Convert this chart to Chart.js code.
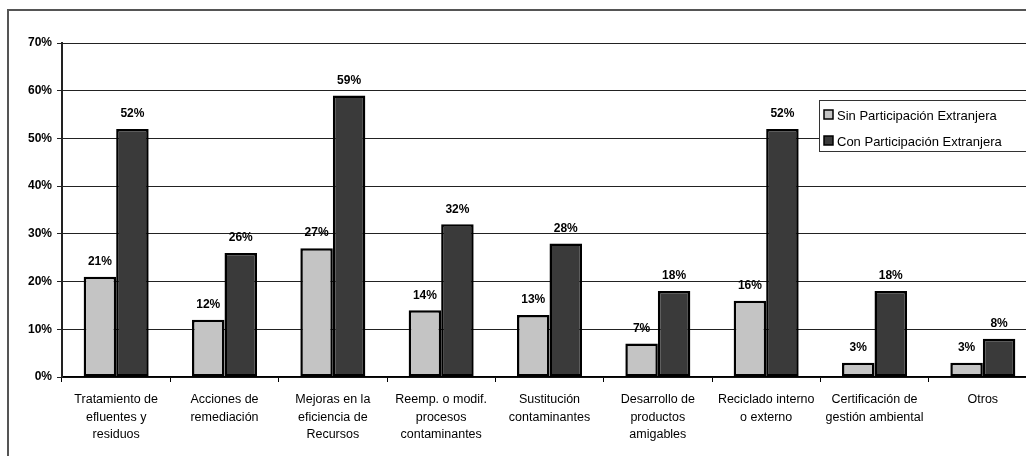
<!DOCTYPE html>
<html>
<head>
<meta charset="utf-8">
<script src="https://cdn.jsdelivr.net/npm/chart.js@4"></script>
<style>
  html, body { margin: 0; padding: 0; background: #fff; overflow: hidden; }
  #wrap { width: 1026px; height: 456px; overflow: hidden; position: relative; }
  canvas { display: block; }
</style>
</head>
<body>
<div id="wrap"><canvas id="c" width="1045" height="456"></canvas></div>
<script>
// Categorías de prácticas ambientales
const categories = [
  ['Tratamiento de', 'efluentes y', 'residuos'],
  ['Acciones de', 'remediación'],
  ['Mejoras en la', 'eficiencia de', 'Recursos'],
  ['Reemp. o modif.', 'procesos', 'contaminantes'],
  ['Sustitución', 'contaminantes'],
  ['Desarrollo de', 'productos', 'amigables'],
  ['Reciclado interno', 'o externo'],
  ['Certificación de', 'gestión ambiental'],
  ['Otros']
];
const seriesNames = ['Sin Participación Extranjera', 'Con Participación Extranjera'];
const sinParticipacion = [21, 12, 27, 14, 13, 7, 16, 3, 3];
const conParticipacion = [52, 26, 59, 32, 28, 18, 52, 18, 8];
const yTicks = [0, 10, 20, 30, 40, 50, 60, 70];

const FONT = '"Liberation Sans", Arial, sans-serif';
const LIGHT = '#c4c4c4';
const DARK = '#3a3a3a';

// Marco exterior del gráfico (bordes superior e izquierdo)
const framePlugin = {
  id: 'frame',
  beforeDraw(chart) {
    const ctx = chart.ctx;
    ctx.save();
    ctx.fillStyle = '#fff';
    ctx.fillRect(0, 0, chart.width, chart.height);
    ctx.strokeStyle = '#555';
    ctx.lineWidth = 2;
    ctx.beginPath();
    ctx.moveTo(8, 456);
    ctx.lineTo(8, 10);
    ctx.lineTo(chart.width, 10);
    ctx.stroke();
    ctx.restore();
  }
};

// Etiquetas de valor sobre cada barra
const valueLabels = {
  id: 'valueLabels',
  afterDatasetsDraw(chart) {
    const ctx = chart.ctx;
    ctx.save();
    ctx.font = 'bold 12px ' + FONT;
    ctx.fillStyle = '#000';
    ctx.textAlign = 'center';
    ctx.textBaseline = 'middle';
    chart.data.datasets.forEach((ds, i) => {
      chart.getDatasetMeta(i).data.forEach((bar, j) => {
        ctx.fillText(ds.data[j] + '%', bar.x, bar.y - 15);
      });
    });
    ctx.restore();
  }
};

// Leyenda en recuadro dentro del área de trazado
const boxLegend = {
  id: 'boxLegend',
  afterDraw(chart) {
    const ctx = chart.ctx;
    const x0 = 819, y0 = 100, w = 230, h = 51;
    ctx.save();
    ctx.fillStyle = '#fff';
    ctx.fillRect(x0, y0, w, h);
    ctx.strokeStyle = '#333';
    ctx.lineWidth = 1;
    ctx.strokeRect(x0 + 0.5, y0 + 0.5, w, h);
    ctx.font = '13px ' + FONT;
    ctx.textBaseline = 'middle';
    ctx.textAlign = 'left';
    const rows = [115, 141];
    chart.data.datasets.forEach((ds, i) => {
      const cy = rows[i];
      ctx.fillStyle = ds.backgroundColor;
      ctx.fillRect(824, cy - 5, 9, 9);
      ctx.strokeStyle = '#000';
      ctx.lineWidth = 1.5;
      ctx.strokeRect(824, cy - 5, 9, 9);
      ctx.fillStyle = '#000';
      ctx.fillText(ds.label, 837, cy + 1);
    });
    ctx.restore();
  }
};

new Chart(document.getElementById('c'), {
  type: 'bar',
  data: {
    labels: categories,
    datasets: [
      { label: seriesNames[0], data: sinParticipacion, backgroundColor: LIGHT,
        borderColor: '#000', borderWidth: 2.5, borderSkipped: false },
      { label: seriesNames[1], data: conParticipacion, backgroundColor: DARK,
        borderColor: '#000', borderWidth: 2.5, borderSkipped: false }
    ]
  },
  options: {
    responsive: false,
    animation: false,
    layout: { padding: { top: 43, right: 8, left: 0, bottom: 0 } },
    plugins: {
      legend: { display: false },
      tooltip: { enabled: false }
    },
    datasets: { bar: { categoryPercentage: 0.6, barPercentage: 1.0 } },
    scales: {
      x: {
        grid: { display: true, offset: true, drawOnChartArea: false, drawTicks: true,
                tickLength: 5, color: '#000', lineWidth: 1 },
        border: { display: true, color: '#000', width: 1.5 },
        ticks: {
          color: '#000', font: { family: FONT, size: 12.5, lineHeight: 1.4 },
          padding: 9, maxRotation: 0, autoSkip: false
        },
        afterFit(scale) { scale.height = 79; }
      },
      y: {
        min: 0, max: 70,
        afterBuildTicks(scale) { scale.ticks = yTicks.map(v => ({ value: v })); },
        grid: { color: '#222', lineWidth: 1, drawTicks: true, tickLength: 5 },
        border: { display: true, color: '#222', width: 2 },
        ticks: {
          color: '#000', font: { family: FONT, size: 12, weight: 'bold' },
          padding: 5, callback: v => v + '%'
        },
        afterFit(scale) { scale.width = 62; }
      }
    }
  },
  plugins: [framePlugin, valueLabels, boxLegend]
});
</script>
</body>
</html>
